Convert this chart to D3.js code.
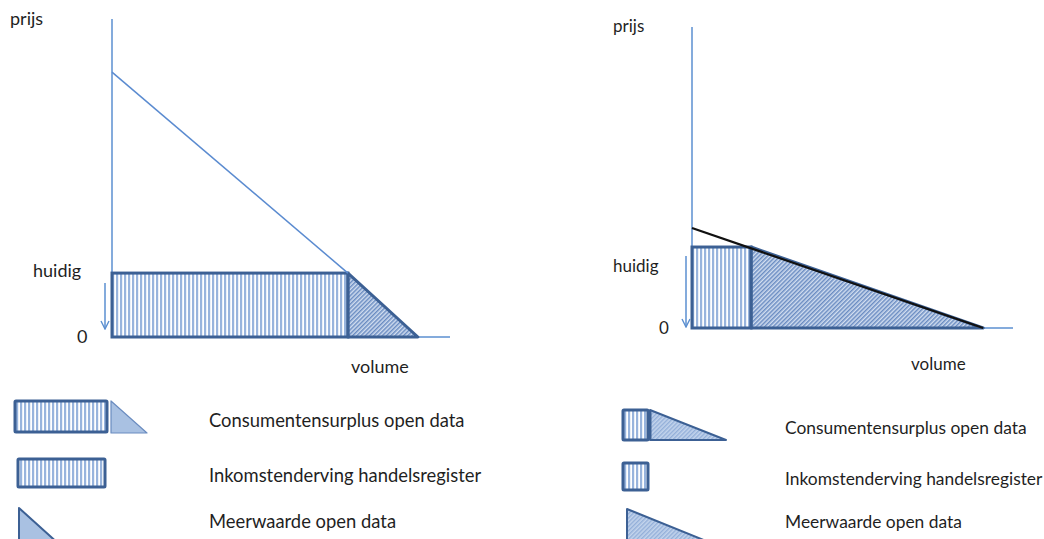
<!DOCTYPE html>
<html>
<head>
<meta charset="utf-8">
<script src="https://cdn.jsdelivr.net/npm/d3@7"></script>
<style>
  html, body { margin: 0; padding: 0; background: #fff; }
  svg { display: block; }
  text { font-family: Lato, "Open Sans", sans-serif; fill: #1f1f1f; }
</style>
</head>
<body>
<svg id="chart" width="1044" height="539"></svg>
<script>
// ---- data (price and volume in relative units, 0..100 of each axis) ----
const panelNames = ["links", "rechts"];
const demandIntercept = [83.3, 33.2];   // price at volume 0
const currentPrice    = [20.1, 26.9];   // "huidig"
const currentVolume   = [69.8, 18.4];   // volume at current price
const maxVolume       = [90.5, 90.7];   // volume at price 0
const priceTickLabels = ["huidig", "0"];
const yAxisTitle = "prijs";
const xAxisTitle = "volume";
const legendLabels = ["Consumentensurplus open data", "Inkomstenderving handelsregister", "Meerwaarde open data"];

// ---- layout ----
const layout = [
  { x: [112, 450], y: [337, 19], demandColor: "#5b8bd0", demandWidth: 1.5, fromCurrent: true,
    title: [10, 25], huidig: [33, 277], zero: [77, 343], volume: [351, 373], arrow: [105, 283, 329], fs: 18 },
  { x: [692, 1013], y: [328, 27], demandColor: "#111", demandWidth: 2.2, fromCurrent: false,
    title: [613, 32], huidig: [613, 272], zero: [659, 334], volume: [911, 370], arrow: [686, 256, 327], fs: 17 }
];
const axisColor = "#5b8fd0";
const darkBlue = "#3c6094";
const lightFill = "#a9c1e2";

const svg = d3.select("#chart");
const defs = svg.append("defs");

// vertical stripes
const pv = defs.append("pattern").attr("id", "vstripe").attr("patternUnits", "userSpaceOnUse")
  .attr("width", 4).attr("height", 10);
pv.append("rect").attr("width", 4).attr("height", 10).attr("fill", "#fff");
pv.append("rect").attr("x", 0).attr("width", 2.2).attr("height", 10).attr("fill", "#98b4dd");
// diagonal hatch
const pd = defs.append("pattern").attr("id", "dhatch").attr("patternUnits", "userSpaceOnUse")
  .attr("width", 3).attr("height", 3).attr("patternTransform", "rotate(45)");
pd.append("rect").attr("width", 3).attr("height", 3).attr("fill", "#d2def0");
pd.append("rect").attr("width", 1.5).attr("height", 3).attr("fill", "#6a8cc2");
// light diagonal hatch for legend
const pl = defs.append("pattern").attr("id", "lhatch").attr("patternUnits", "userSpaceOnUse")
  .attr("width", 3).attr("height", 3).attr("patternTransform", "rotate(45)");
pl.append("rect").attr("width", 3).attr("height", 3).attr("fill", "#c3d4ec");
pl.append("rect").attr("width", 1.4).attr("height", 3).attr("fill", "#93afd9");

// arrow marker (open V)
const mk = defs.append("marker").attr("id", "arr").attr("viewBox", "0 0 10 10")
  .attr("refX", 9).attr("refY", 5).attr("markerWidth", 10).attr("markerHeight", 10)
  .attr("markerUnits", "userSpaceOnUse").attr("orient", "auto");
mk.append("path").attr("d", "M1,1 L9,5 L1,9").attr("fill", "none").attr("stroke", axisColor).attr("stroke-width", 1.4);

panelNames.forEach((name, i) => {
  const L = layout[i];
  const x = d3.scaleLinear().domain([0, 100]).range(L.x);
  const y = d3.scaleLinear().domain([0, 100]).range(L.y);
  const g = svg.append("g").attr("class", "panel-" + name);

  // surplus rectangle
  g.append("rect")
    .attr("x", x(0)).attr("y", y(currentPrice[i]))
    .attr("width", x(currentVolume[i]) - x(0))
    .attr("height", y(0) - y(currentPrice[i]))
    .attr("fill", "url(#vstripe)");

  // triangle (gain)
  const tri = [[currentVolume[i], currentPrice[i]], [maxVolume[i], 0], [currentVolume[i], 0]];
  g.append("path")
    .attr("d", d3.line().x(d => x(d[0])).y(d => y(d[1]))(tri) + "Z")
    .attr("fill", "url(#dhatch)");

  // axes
  g.append("line").attr("x1", x(0)).attr("x2", x(0)).attr("y1", y(100)).attr("y2", y(0))
    .attr("stroke", axisColor).attr("stroke-width", 1.5);
  g.append("line").attr("x1", x(0)).attr("x2", x(100)).attr("y1", y(0)).attr("y2", y(0))
    .attr("stroke", axisColor).attr("stroke-width", 1.5);

  // rectangle outline
  g.append("rect")
    .attr("x", x(0)).attr("y", y(currentPrice[i]))
    .attr("width", x(currentVolume[i]) - x(0))
    .attr("height", y(0) - y(currentPrice[i]))
    .attr("fill", "none").attr("stroke", darkBlue).attr("stroke-width", 3);
  // triangle outline
  g.append("path")
    .attr("d", d3.line().x(d => x(d[0])).y(d => y(d[1]))(tri) + "Z")
    .attr("fill", "none").attr("stroke", darkBlue).attr("stroke-width", 3).attr("stroke-linejoin", "round");

  // demand line
  const endPt = L.fromCurrent ? [currentVolume[i], currentPrice[i]] : [maxVolume[i], 0];
  g.append("line")
    .attr("x1", x(0)).attr("y1", y(demandIntercept[i]))
    .attr("x2", x(endPt[0])).attr("y2", y(endPt[1]))
    .attr("stroke", L.demandColor).attr("stroke-width", L.demandWidth);

  // arrow (price drop)
  g.append("line").attr("x1", L.arrow[0]).attr("x2", L.arrow[0]).attr("y1", L.arrow[1]).attr("y2", L.arrow[2])
    .attr("stroke", axisColor).attr("stroke-width", 1.5).attr("marker-end", "url(#arr)");

  // labels
  g.append("text").attr("x", L.title[0]).attr("y", L.title[1]).attr("font-size", L.fs).text(yAxisTitle);
  g.append("text").attr("x", L.huidig[0]).attr("y", L.huidig[1]).attr("font-size", L.fs).text(priceTickLabels[0]);
  g.append("text").attr("x", L.zero[0]).attr("y", L.zero[1]).attr("font-size", L.fs).text(priceTickLabels[1]);
  g.append("text").attr("x", L.volume[0]).attr("y", L.volume[1]).attr("font-size", L.fs).text(xAxisTitle);
});

// ---- legends ----
function tri(g, pts, fill, stroke, sw) {
  g.append("path").attr("d", d3.line()(pts) + "Z").attr("fill", fill)
    .attr("stroke", stroke).attr("stroke-width", sw).attr("stroke-linejoin", "round");
}
function box(g, x0, y0, x1, y1) {
  g.append("rect").attr("x", x0).attr("y", y0).attr("width", x1 - x0).attr("height", y1 - y0)
    .attr("fill", "url(#vstripe)").attr("stroke", darkBlue).attr("stroke-width", 3).attr("rx", 1);
}
const lg = svg.append("g");
// left legend
box(lg, 15, 401, 107, 432);
tri(lg, [[111, 401], [111, 433], [147, 433]], lightFill, "#6a8cc0", 1.2);
box(lg, 18, 459, 105, 487);
tri(lg, [[19, 508], [19, 545], [60, 545]], lightFill, darkBlue, 2);
// right legend
box(lg, 623, 410, 648, 440);
tri(lg, [[650, 410], [650, 440], [726, 440]], "url(#lhatch)", darkBlue, 2);
lg.append("line").attr("x1", 650).attr("x2", 650).attr("y1", 410).attr("y2", 440).attr("stroke", darkBlue).attr("stroke-width", 3);
box(lg, 623, 463, 648, 490);
tri(lg, [[627, 509], [627, 545], [716, 545]], "url(#lhatch)", darkBlue, 2);

const legendText = [
  { x: 209, ys: [427, 482, 528], size: 18.4 },
  { x: 785, ys: [434, 485, 528], size: 17.4 }
];
legendText.forEach(lt => {
  legendLabels.forEach((lab, j) => {
    lg.append("text").attr("x", lt.x).attr("y", lt.ys[j]).attr("font-size", lt.size).text(lab);
  });
});
</script>
</body>
</html>
